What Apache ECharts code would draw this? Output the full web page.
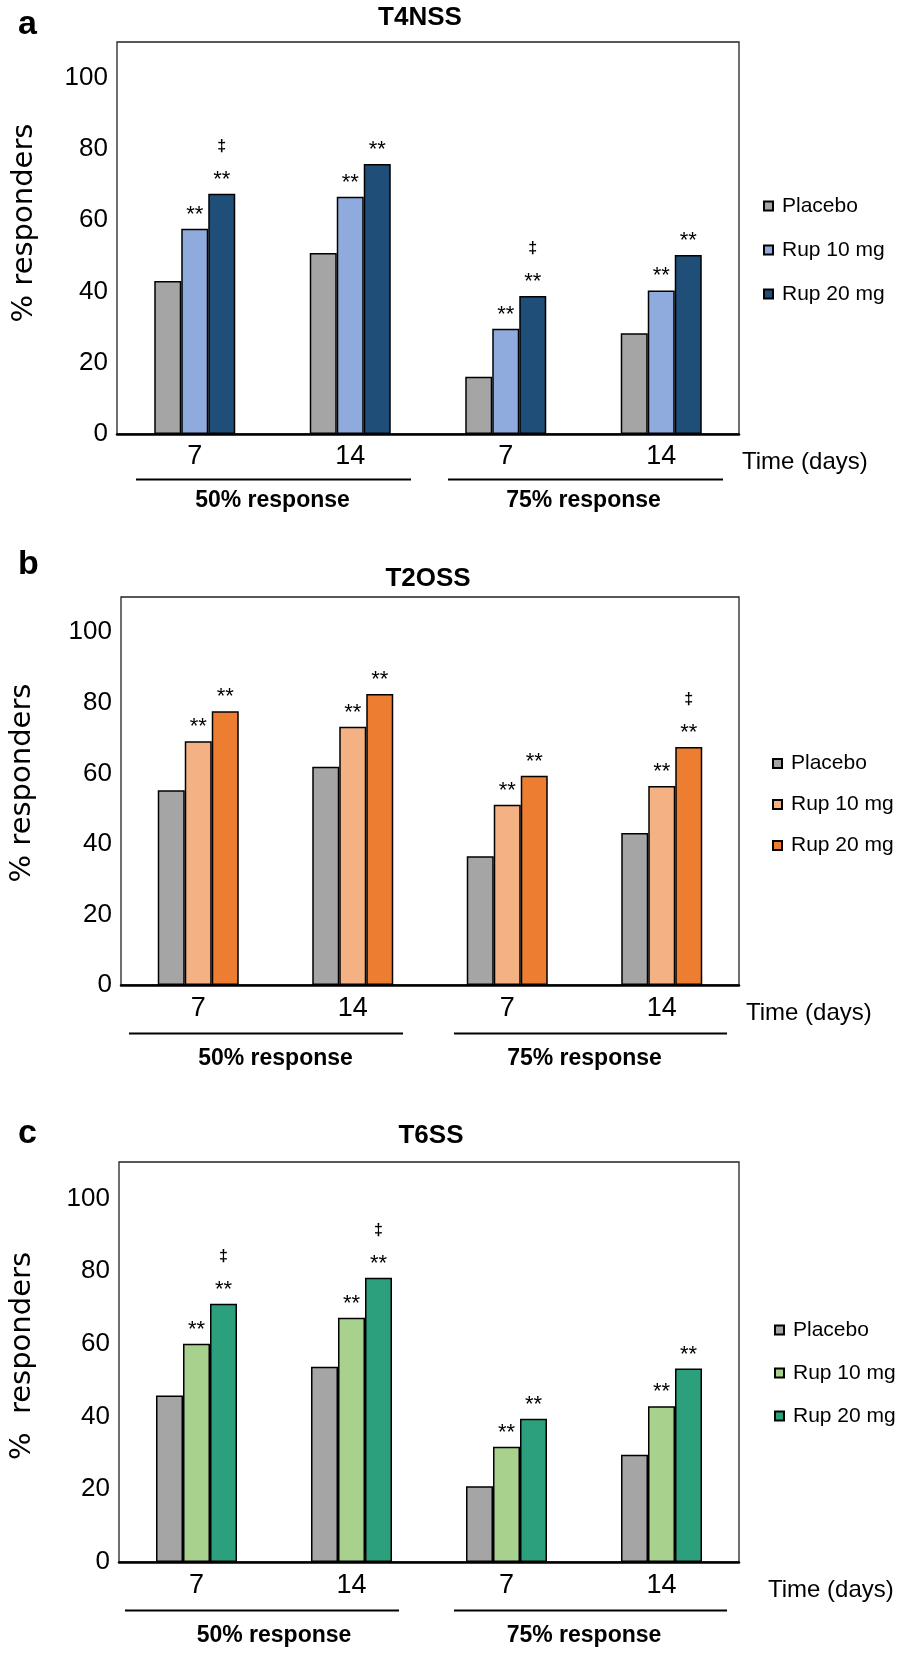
<!DOCTYPE html>
<html><head><meta charset="utf-8">
<script src="https://cdn.jsdelivr.net/npm/echarts@6/dist/echarts.min.js"></script>
<style>
html,body{margin:0;padding:0;background:#fff;width:898px;height:1653px;overflow:hidden}
.p{position:absolute;left:0;width:898px}
</style>
</head><body>
<div id="pa" class="p" style="top:0;height:535px"></div>
<div id="pb" class="p" style="top:535px;height:565px"></div>
<div id="pc" class="p" style="top:1100px;height:553px"></div>
<script>
// ---- data ----
const timeLabels = ['7', '14', '7', '14'];
const groupLabels = ['50% response', '75% response'];
const seriesNames = ['Placebo', 'Rup 10 mg', 'Rup 20 mg'];
const yMin = 0, yMax = 110, yStep = 20;

// a: T4NSS
const t4nssPlacebo = [42.9, 50.8, 16.1, 28.3];
const t4nssRup10   = [57.6, 66.6, 29.5, 40.3];
const t4nssRup20   = [67.4, 75.8, 38.7, 50.2];
const t4nssSig10   = ['**', '**', '**', '**'];
const t4nssSig20   = ['‡**', '**', '‡**', '**'];

// b: T2OSS
const t2ossPlacebo = [55.2, 61.9, 36.5, 43.1];
const t2ossRup10   = [69.1, 73.2, 51.1, 56.4];
const t2ossRup20   = [77.6, 82.5, 59.3, 67.5];
const t2ossSig10   = ['**', '**', '**', '**'];
const t2ossSig20   = ['**', '**', '**', '‡**'];

// c: T6SS
const t6ssPlacebo = [45.8, 53.7, 20.8, 29.5];
const t6ssRup10   = [60.0, 67.2, 31.7, 42.8];
const t6ssRup20   = [71.0, 78.2, 39.4, 53.2];
const t6ssSig10   = ['**', '**', '**', '**'];
const t6ssSig20   = ['‡**', '‡**', '**', '**'];

// ---- drawing ----
const SANS = '"Liberation Sans", Arial, sans-serif';

function sigLabel(sig) {
  return {
    show: true, position: 'top', distance: 0,
    formatter: p => {
      const s = sig[p.dataIndex];
      if (!s) return '';
      return s.startsWith('‡') ? '{d|‡}\n{s|**}' : '{s|**}';
    },
    rich: {
      s: { fontSize: 22, lineHeight: 28, fontFamily: SANS, color: '#000' },
      d: { fontSize: 16, lineHeight: 38, fontWeight: 'bold', fontFamily: SANS, color: '#000' }
    }
  };
}

function panel(id, c) {
  const chart = echarts.init(document.getElementById(id), null, { renderer: 'canvas' });
  const barBase = { type: 'bar', barWidth: 27, barGap: '0%' };
  chart.setOption({
    animation: false,
    backgroundColor: '#fff',
    textStyle: { fontFamily: SANS, color: '#000' },
    grid: { left: 117, width: 622, top: c.gridTop, height: c.gridH,
      show: true, borderColor: '#222', borderWidth: 1.3 },
    legend: {
      orient: 'vertical', left: c.legLeft, top: c.legTop, itemGap: c.legGap, padding: 0,
      itemWidth: 9, itemHeight: 9, icon: 'rect',
      textStyle: { fontSize: 21, fontFamily: SANS, color: '#000', padding: [0, 0, 0, 4] },
      data: seriesNames
    },
    xAxis: [{
      type: 'category', data: timeLabels, gridIndex: 0,
      axisLine: { lineStyle: { color: '#000', width: 2.5 } },
      axisTick: { show: false },
      axisLabel: { fontSize: 27, margin: c.catMargin, color: '#000', fontFamily: SANS },
      name: 'Time (days)', nameLocation: 'end', nameGap: c.timeGap,
      nameTextStyle: { fontSize: 24, color: '#000', fontFamily: SANS, align: 'left',
        verticalAlign: 'top', padding: [16, 0, 0, 0] }
    }, {
      type: 'category', data: groupLabels, gridIndex: 0, position: 'bottom',
      axisLine: { show: false }, axisTick: { show: false },
      axisLabel: { fontSize: 23, fontWeight: 'bold', margin: c.grpMargin, color: '#000', fontFamily: SANS }
    }],
    yAxis: {
      type: 'value', min: yMin, max: yMax, interval: yStep,
      axisLine: { show: false }, axisTick: { show: false }, splitLine: { show: false },
      axisLabel: { fontSize: 26, margin: 9, color: '#000', fontFamily: SANS, showMaxLabel: false,
        formatter: v => (v > 100 ? '' : String(v)) },
      name: c.yName, nameLocation: 'middle', nameGap: c.yNameGap,
      nameTextStyle: { fontSize: 29, fontFamily: '"DejaVu Sans", sans-serif', color: '#000',
        padding: [0, 0, 0, c.yNameShift] }
    },
    series: [
      Object.assign({}, barBase, { name: seriesNames[0], data: c.placebo, itemStyle: { color: '#A5A5A5', borderColor: '#000', borderWidth: 1.5 } }),
      Object.assign({}, barBase, { name: seriesNames[1], data: c.rup10, itemStyle: { color: c.col10, borderColor: '#000', borderWidth: 1.5 }, label: sigLabel(c.sig10) }),
      Object.assign({}, barBase, { name: seriesNames[2], data: c.rup20, itemStyle: { color: c.col20, borderColor: '#000', borderWidth: 1.5 }, label: sigLabel(c.sig20) })
    ],
    graphic: [
      { type: 'text', x: 18, y: c.letterY, style: { text: c.letter, fontSize: 34, fontWeight: 'bold', fontFamily: SANS, fill: '#000', align: 'left', verticalAlign: 'middle' } },
      { type: 'text', x: c.titleX, y: c.titleY, style: { text: c.title, fontSize: 26, fontWeight: 'bold', fontFamily: SANS, fill: '#000', align: 'center', verticalAlign: 'middle' } },
      { type: 'line', shape: { x1: c.line1[0], y1: c.lineY, x2: c.line1[1], y2: c.lineY }, style: { stroke: '#000', lineWidth: 2 } },
      { type: 'line', shape: { x1: c.line2[0], y1: c.lineY, x2: c.line2[1], y2: c.lineY }, style: { stroke: '#000', lineWidth: 2 } }
    ]
  });
}

panel('pa', {
  letter: 'a', letterY: 25, title: 'T4NSS', titleX: 420, titleY: 18,
  gridTop: 42, gridH: 392, legLeft: 763, legTop: 195.5, legGap: 23,
  catMargin: 9, timeGap: 3, grpMargin: 55, yName: '% responders', yNameGap: 78, yNameShift: 30,
  lineY: 479.5, line1: [136, 411], line2: [448, 723],
  placebo: t4nssPlacebo, rup10: t4nssRup10, rup20: t4nssRup20,
  sig10: t4nssSig10, sig20: t4nssSig20, col10: '#8FAADC', col20: '#1F4E79'
});
panel('pb', {
  letter: 'b', letterY: 30, title: 'T2OSS', titleX: 428, titleY: 44,
  gridTop: 62, gridH: 388, legLeft: 772, legTop: 218, legGap: 20,
  catMargin: 10, timeGap: 7, grpMargin: 62, yName: '% responders', yNameGap: 84, yNameShift: 16,
  lineY: 498.5, line1: [129, 403], line2: [454, 727],
  placebo: t2ossPlacebo, rup10: t2ossRup10, rup20: t2ossRup20,
  sig10: t2ossSig10, sig20: t2ossSig20, col10: '#F4B183', col20: '#ED7D31'
});
panel('pc', {
  letter: 'c', letterY: 34, title: 'T6SS', titleX: 431, titleY: 36,
  gridTop: 62, gridH: 400, legLeft: 774, legTop: 219.5, legGap: 22,
  catMargin: 10, timeGap: 29, grpMargin: 62, yName: '%  responders', yNameGap: 82, yNameShift: 12,
  lineY: 510.5, line1: [125, 399], line2: [454, 727],
  placebo: t6ssPlacebo, rup10: t6ssRup10, rup20: t6ssRup20,
  sig10: t6ssSig10, sig20: t6ssSig20, col10: '#A9D18E', col20: '#2CA07D'
});
</script>
</body></html>
